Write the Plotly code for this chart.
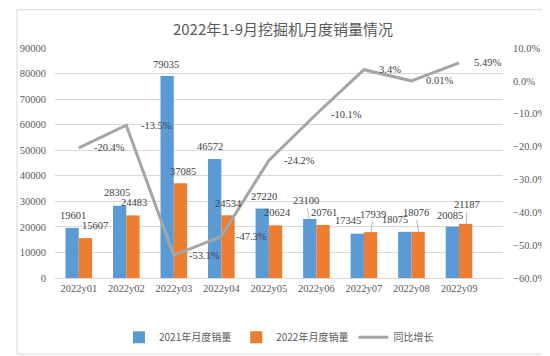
import plotly.graph_objects as go

months = ["2022y01", "2022y02", "2022y03", "2022y04", "2022y05",
          "2022y06", "2022y07", "2022y08", "2022y09"]
sales_2021 = [19601, 28305, 79035, 46572, 27220, 23100, 17345, 18075, 20085]
sales_2022 = [15607, 24483, 37085, 24534, 20624, 20761, 17939, 18076, 21187]
yoy_pct = [-20.4, -13.5, -53.1, -47.3, -24.2, -10.1, 3.4, 0.01, 5.49]
yoy_labels = ["-20.4%", "-13.5%", "-53.1%", "-47.3%", "-24.2%",
              "-10.1%", "3.4%", "0.01%", "5.49%"]
left_ticks = [0, 10000, 20000, 30000, 40000, 50000, 60000, 70000, 80000, 90000]
right_ticks = [-0.6, -0.5, -0.4, -0.3, -0.2, -0.1, 0.0, 0.1]

# label placement styling (pixel offsets of data labels relative to bar tops)
blue_off = [(1, -12), (-2, -13), (-1, -12), (-4, -12), (2, -12),
            (-3, -18), (-9, -13), (-9, -12), (-2, -11)]
orange_off = [(9, -13), (0, -13), (2, -12), (0, -12), (1, -13),
              (0, -12), (2, -18), (-3, -19), (1, -19)]
blue_leader = [False, False, False, False, False, True, False, False, False]
orange_leader = [False, False, False, False, False, False, True, True, True]

W, H = 550, 356
ML, MR, MT, MB = 40, 45, 40, 79
BARGAP = 0.44
PW = W - ML - MR
PH = H - MT - MB
bar_off = PW / len(months) * (1 - BARGAP) / 4

NUM = "Liberation Serif"
CJK = "Noto Sans CJK SC"
BLUE = "#5B9BD5"
ORANGE = "#ED7D31"
GREY = "#A5A5A5"
TXT = "#595959"
LBL = "#404040"

fig = go.Figure()
fig.add_trace(go.Bar(x=months, y=sales_2021, name="2021年月度销量",
                     marker=dict(color=BLUE, line=dict(width=0))))
fig.add_trace(go.Bar(x=months, y=sales_2022, name="2022年月度销量",
                     marker=dict(color=ORANGE, line=dict(width=0))))
fig.add_trace(go.Scatter(x=months, y=[v / 100 for v in yoy_pct], name="同比增长",
                         yaxis="y2", mode="lines",
                         line=dict(color=GREY, width=3), cliponaxis=False))

annotations = []
for i, m in enumerate(months):
    for vals, offs, leads, sign in ((sales_2021, blue_off, blue_leader, -1),
                                    (sales_2022, orange_off, orange_leader, 1)):
        dx, dy = offs[i]
        annotations.append(dict(
            x=m, y=vals[i], xref="x", yref="y", text=str(vals[i]),
            xshift=sign * bar_off, showarrow=True, ax=dx, ay=dy,
            axref="pixel", ayref="pixel", arrowhead=0, arrowwidth=0.8,
            standoff=0, startstandoff=0,
            arrowcolor="#A6A6A6" if leads[i] else "rgba(0,0,0,0)",
            font=dict(family=NUM, size=10.5, color=LBL)))
    annotations.append(dict(
        x=m, y=yoy_pct[i] / 100, xref="x", yref="y2", text=yoy_labels[i],
        showarrow=False, xanchor="left", yanchor="middle", xshift=13,
        font=dict(family=NUM, size=10.5, color=LBL)))

fig.update_layout(
    width=W, height=H,
    margin=dict(l=ML, r=MR, t=MT, b=MB, pad=0),
    paper_bgcolor="white", plot_bgcolor="white",
    barmode="group", bargap=BARGAP, bargroupgap=0,
    title=dict(text="2022年1-9月挖掘机月度销量情况", x=0.5, xanchor="center",
               y=1 - 22 / H, yanchor="middle",
               font=dict(family=CJK, size=15, color=TXT)),
    font=dict(family=NUM, size=10.5, color=TXT),
    xaxis=dict(showgrid=False, showline=True, linecolor="#D9D9D9", linewidth=1,
               ticks="", tickfont=dict(family=NUM, size=10.5, color=TXT)),
    yaxis=dict(range=[0, 90000], tickvals=left_ticks, tickformat="d",
               showgrid=True, gridcolor="#D9D9D9", gridwidth=1, zeroline=False,
               ticks="outside", ticklen=6, tickcolor="rgba(0,0,0,0)",
               tickfont=dict(family=NUM, size=10.5, color=TXT)),
    yaxis2=dict(range=[-0.6, 0.1], tickvals=right_ticks, tickformat=".1%",
                overlaying="y", side="right", showgrid=False, zeroline=False,
                ticks="outside", ticklen=7, tickcolor="rgba(0,0,0,0)",
                tickfont=dict(family=NUM, size=10.5, color=TXT)),
    legend=dict(orientation="h", x=0.5, xanchor="center", y=-(338 - MT - PH) / PH,
                yanchor="middle", font=dict(family=CJK, size=10, color=TXT),
                itemwidth=30, traceorder="normal"),
    annotations=annotations,
    shapes=[dict(type="rect", xref="paper", yref="paper",
                 x0=-(ML - 0.5) / PW, x1=1 + (MR - 0.5) / PW,
                 y0=-(MB - 0.5) / PH, y1=1 + (MT - 0.5) / PH,
                 line=dict(color="#D9D9D9", width=1))],
)

fig.write_html("out.html")
